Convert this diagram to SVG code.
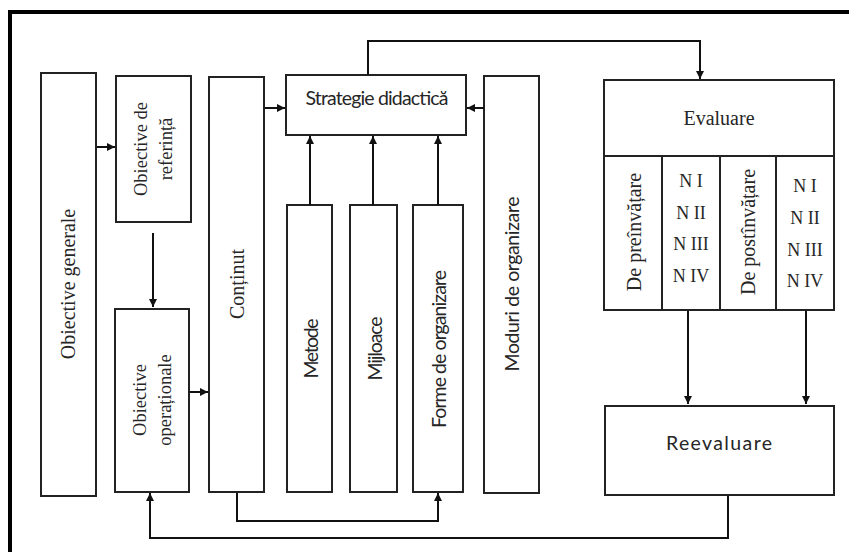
<svg xmlns="http://www.w3.org/2000/svg" width="849" height="552" viewBox="0 0 849 552">
  <style>
    .box { fill: #ffffff; stroke: #222222; stroke-width: 2; }
    .frame { fill: none; stroke: #000000; stroke-width: 4; }
    .link { fill: none; stroke: #111111; stroke-width: 2; }
    .serif { font-family: "Liberation Serif", "Times New Roman", serif; fill: #262626; }
    .sans { font-family: Lato, "Liberation Sans", Arial, sans-serif; fill: #262626; font-size: 19.5px; }
    .mid { text-anchor: middle; }
    .c { dominant-baseline: central; }
  </style>
  <defs>
    <marker id="arrow" viewBox="0 0 10 10" refX="10" refY="5" markerWidth="9" markerHeight="8" markerUnits="userSpaceOnUse" orient="auto">
      <path d="M0,0 L10,5 L0,10 z" fill="#111111"/>
    </marker>
  </defs>

  <rect width="849" height="552" fill="#ffffff"/>
  <!-- outer frame, open on the right and bottom edges -->
  <rect class="frame" x="10" y="12" width="850" height="560"/>

  <g id="obiective-generale">
    <rect class="box" x="41" y="73" width="55" height="423"/>
    <text class="serif mid c" font-size="20" transform="translate(68,284) rotate(-90)">Obiective generale</text>
  </g>

  <g id="obiective-referinta">
    <rect class="box" x="116" y="76" width="75" height="146"/>
    <text class="serif mid c" font-size="18.5" transform="translate(141,149) rotate(-90)">Obiective de</text>
    <text class="serif mid c" font-size="18.5" transform="translate(166,149) rotate(-90)">referință</text>
  </g>

  <g id="obiective-operationale">
    <rect class="box" x="115" y="309" width="74" height="183"/>
    <text class="serif mid c" font-size="18.5" transform="translate(140,400) rotate(-90)">Obiective</text>
    <text class="serif mid c" font-size="18.5" transform="translate(165,400) rotate(-90)">operaționale</text>
  </g>

  <g id="continut">
    <rect class="box" x="209" y="77" width="55" height="415"/>
    <text class="serif mid c" font-size="20" transform="translate(237,284) rotate(-90)">Conținut</text>
  </g>

  <g id="strategie-didactica">
    <rect class="box" x="286" y="75" width="180" height="60"/>
    <text class="sans mid" x="377" y="105" textLength="143">Strategie didactică</text>
  </g>

  <g id="metode">
    <rect class="box" x="287" y="205" width="45" height="287"/>
    <text class="sans mid c" textLength="60" transform="translate(310,348.5) rotate(-90)">Metode</text>
  </g>

  <g id="mijloace">
    <rect class="box" x="350" y="205" width="47" height="287"/>
    <text class="sans mid c" textLength="64" transform="translate(374,348.5) rotate(-90)">Mijloace</text>
  </g>

  <g id="forme-de-organizare">
    <rect class="box" x="413" y="205" width="50" height="287"/>
    <text class="sans mid c" textLength="158" transform="translate(438,349) rotate(-90)">Forme de organizare</text>
  </g>

  <g id="moduri-de-organizare">
    <rect class="box" x="484" y="76" width="55" height="417"/>
    <text class="sans mid c" textLength="175" transform="translate(511.5,284) rotate(-90)">Moduri de organizare</text>
  </g>

  <g id="evaluare">
    <rect class="box" x="604" y="80" width="230" height="230"/>
    <line class="box" x1="604" y1="156" x2="834" y2="156"/>
    <line class="box" x1="662" y1="156" x2="662" y2="310"/>
    <line class="box" x1="720" y1="156" x2="720" y2="310"/>
    <line class="box" x1="776" y1="156" x2="776" y2="310"/>
    <text class="serif mid" font-size="20" x="719" y="125">Evaluare</text>
    <text class="serif mid c" font-size="20" transform="translate(634,232) rotate(-90)">De preînvățare</text>
    <text class="serif mid c" font-size="20" transform="translate(748,232) rotate(-90)">De postînvățare</text>
    <g class="serif mid" font-size="18">
      <text x="691" y="187">N I</text>
      <text x="691" y="218.5">N II</text>
      <text x="691" y="250">N III</text>
      <text x="691" y="282">N IV</text>
      <text x="805" y="191.5">N I</text>
      <text x="805" y="223.5">N II</text>
      <text x="805" y="255.5">N III</text>
      <text x="805" y="287">N IV</text>
    </g>
  </g>

  <g id="reevaluare">
    <rect class="box" x="605" y="406" width="229" height="89"/>
    <text class="sans mid" x="719" y="450" textLength="106">Reevaluare</text>
  </g>

  <g id="connectors">
    <path class="link" d="M97,147 H115" marker-end="url(#arrow)"/>
    <path class="link" d="M153,233 V307" marker-end="url(#arrow)"/>
    <path class="link" d="M190,392 H208" marker-end="url(#arrow)"/>
    <path class="link" d="M265,108 H285" marker-end="url(#arrow)"/>
    <path class="link" d="M484,108 H467" marker-end="url(#arrow)"/>
    <path class="link" d="M310,205 V136" marker-end="url(#arrow)"/>
    <path class="link" d="M373,205 V136" marker-end="url(#arrow)"/>
    <path class="link" d="M438,205 V136" marker-end="url(#arrow)"/>
    <path class="link" d="M368,75 V41 H700 V79" marker-end="url(#arrow)"/>
    <path class="link" d="M688,311 V404" marker-end="url(#arrow)"/>
    <path class="link" d="M806,311 V404" marker-end="url(#arrow)"/>
    <path class="link" d="M728,496 V538 H150 V493" marker-end="url(#arrow)"/>
    <path class="link" d="M237,493 V521 H438 V493" marker-end="url(#arrow)"/>
  </g>
</svg>
